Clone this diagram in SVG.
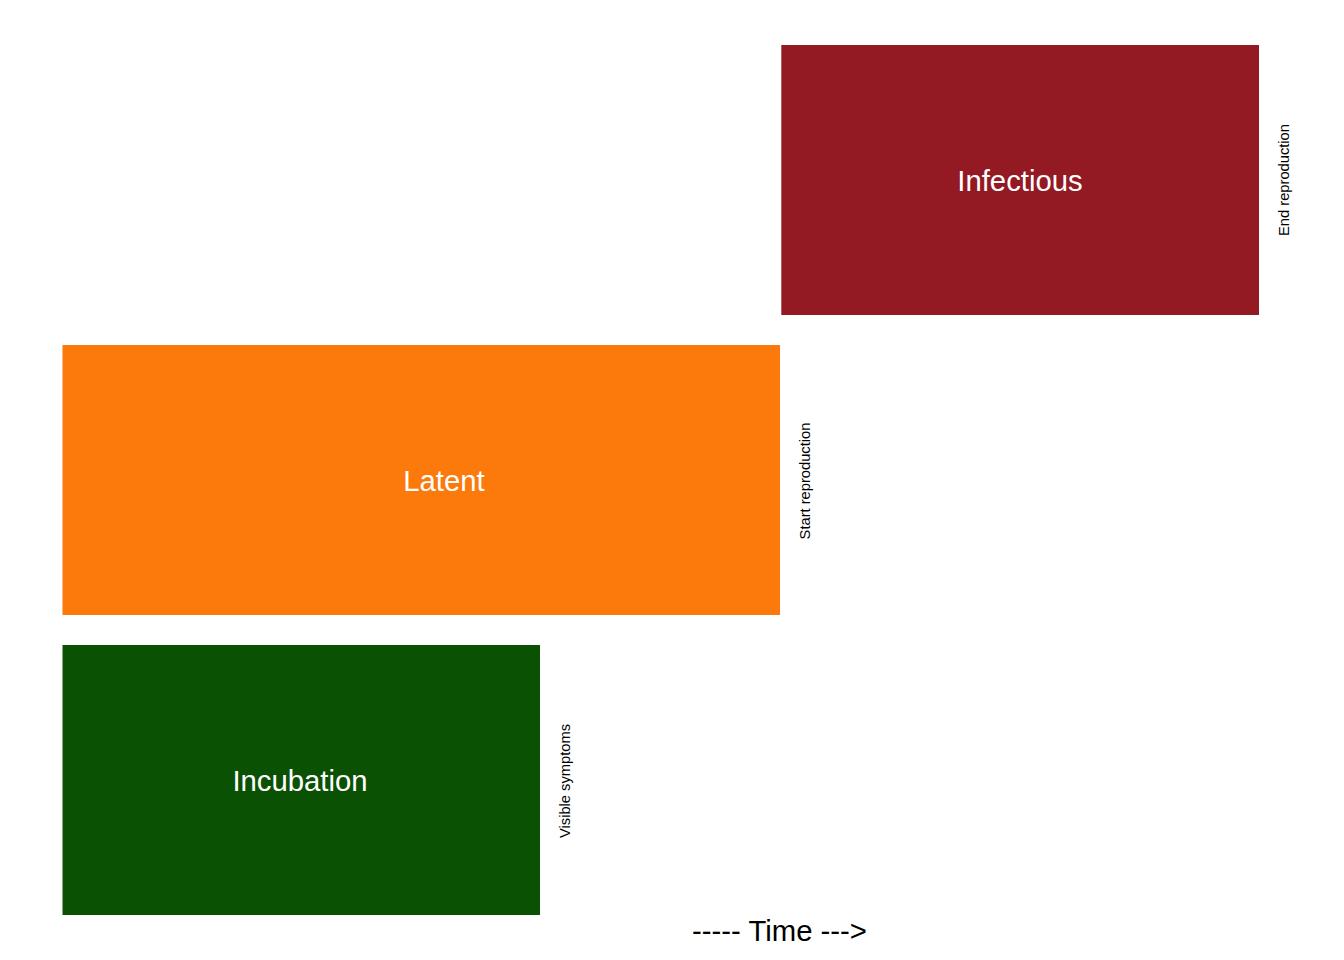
<svg xmlns="http://www.w3.org/2000/svg" width="1344" height="960" viewBox="0 0 1344 960">
<style>
.big{font-family:"Liberation Sans",Arial,sans-serif;font-size:29.3px;fill:#ffffff;text-anchor:middle}
.side{font-family:"Liberation Sans",Arial,sans-serif;font-size:14.7px;fill:#000000;text-anchor:middle}
.axis{font-family:"Liberation Sans",Arial,sans-serif;font-size:29.3px;fill:#000000;text-anchor:middle}
</style>
<rect width="1344" height="960" fill="#ffffff"/>
<g id="infectious">
<rect x="781.3" y="45" width="477.7" height="270" fill="#931A22"/>
<text class="big" x="1020" y="191">Infectious</text>
<text class="side" transform="translate(1289,180) rotate(-90)">End reproduction</text>
</g>
<g id="latent">
<rect x="62.5" y="345" width="717.5" height="270" fill="#FC790B"/>
<text class="big" x="444" y="491">Latent</text>
<text class="side" transform="translate(810,481) rotate(-90)">Start reproduction</text>
</g>
<g id="incubation">
<rect x="62.5" y="645" width="477.5" height="270" fill="#0B5103"/>
<text class="big" x="300" y="791">Incubation</text>
<text class="side" transform="translate(570,781) rotate(-90)">Visible symptoms</text>
</g>
<g id="connectors"></g>
<text class="axis" x="779.5" y="941">----- Time ---&gt;</text>
</svg>
